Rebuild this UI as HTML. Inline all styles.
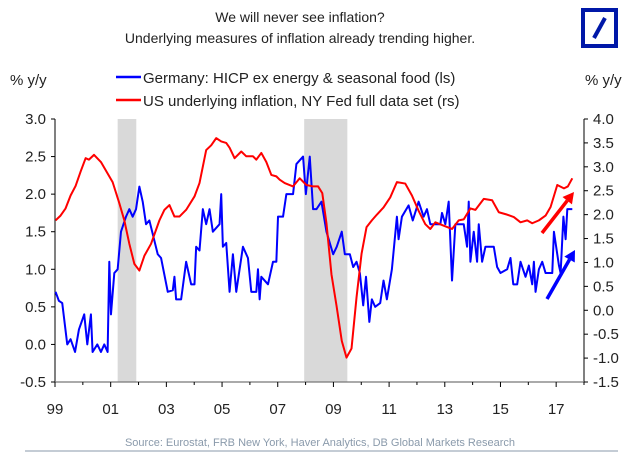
<!DOCTYPE html>
<html><head><meta charset="utf-8"><style>
body{margin:0;background:#fff;}
svg{display:block;font-family:"Liberation Sans",Arial,sans-serif;}
</style></head><body>
<svg id="chart" width="640" height="459" viewBox="0 0 640 459">
<text x="300" y="22" text-anchor="middle" font-size="14" fill="#222">We will never see inflation?</text>
<text x="300" y="43" text-anchor="middle" font-size="14" fill="#222">Underlying measures of inflation already trending higher.</text>
<g>
<rect x="583" y="10" width="33" height="36" fill="none" stroke="#0018a8" stroke-width="4"/>
<line x1="594" y1="38" x2="605" y2="18" stroke="#0018a8" stroke-width="4"/>
</g>
<text x="10" y="85" font-size="15" fill="#222">% y/y</text>
<text x="585" y="85" font-size="15" fill="#222">% y/y</text>
<g>
<line x1="116" y1="77" x2="141" y2="77" stroke="#0000ff" stroke-width="2.5"/>
<text x="143" y="83" font-size="15" fill="#222">Germany: HICP ex energy &amp; seasonal food (ls)</text>
<line x1="116" y1="100" x2="141" y2="100" stroke="#ff0000" stroke-width="2.5"/>
<text x="143" y="106" font-size="15" fill="#222">US underlying inflation, NY Fed full data set (rs)</text>
</g>
<g id="plot"></g>
<text x="320" y="446" text-anchor="middle" font-size="11" fill="#8a9aab">Source: Eurostat, FRB New York, Haver Analytics, DB Global Markets Research</text>
<line x1="25" y1="451" x2="618" y2="451" stroke="#8a9aab" stroke-width="1"/>
</svg>
<script>
const germanyYears=[1999.02,1999.14,1999.26,1999.44,1999.56,1999.72,1999.86,2000.05,2000.16,2000.29,2000.35,2000.52,2000.65,2000.77,2000.89,2000.95,2001.01,2001.13,2001.25,2001.37,2001.55,2001.67,2001.79,2001.91,2002.03,2002.15,2002.27,2002.39,2002.69,2002.81,2003.05,2003.23,2003.29,2003.35,2003.53,2003.71,2003.89,2004.01,2004.07,2004.19,2004.31,2004.43,2004.55,2004.67,2004.91,2004.97,2005.03,2005.15,2005.27,2005.39,2005.51,2005.75,2005.93,2006.05,2006.23,2006.29,2006.35,2006.41,2006.65,2006.83,2006.95,2007.01,2007.19,2007.31,2007.55,2007.67,2007.91,2008.01,2008.15,2008.27,2008.39,2008.57,2008.75,2008.99,2009.12,2009.30,2009.41,2009.59,2009.71,2009.83,2009.95,2010.07,2010.17,2010.29,2010.38,2010.50,2010.68,2010.80,2010.92,2011.10,2011.28,2011.34,2011.46,2011.70,2011.85,2012.06,2012.24,2012.36,2012.48,2012.84,2012.90,2013.02,2013.14,2013.26,2013.38,2013.68,2013.80,2013.86,2013.92,2014.04,2014.16,2014.22,2014.34,2014.46,2014.76,2014.88,2015.00,2015.24,2015.36,2015.46,2015.60,2015.72,2015.90,2016.02,2016.14,2016.20,2016.26,2016.38,2016.50,2016.62,2016.86,2016.92,2017.10,2017.16,2017.26,2017.34,2017.40,2017.58];
const germanyValues=[0.70,0.58,0.55,0.0,0.07,-0.1,0.2,0.4,0.0,0.4,-0.1,0.0,-0.1,0.0,-0.1,1.1,0.4,0.95,1.0,1.5,1.7,1.8,1.7,1.8,2.1,1.9,1.6,1.65,1.2,1.15,0.7,0.72,0.9,0.6,0.6,1.1,0.8,0.8,1.3,1.25,1.8,1.6,1.8,1.5,1.6,2.0,1.3,1.35,0.7,1.2,0.7,1.3,1.15,0.7,0.7,1.0,0.6,0.9,0.8,1.1,1.1,1.7,1.7,2.0,2.0,2.4,2.5,2.0,2.5,1.8,1.8,1.9,1.5,1.2,1.3,1.5,1.2,1.2,1.03,1.1,0.95,0.52,0.9,0.3,0.6,0.5,0.55,0.85,0.6,1.0,1.7,1.4,1.7,1.85,1.65,1.9,1.7,1.8,1.6,1.6,1.75,1.6,1.9,0.85,1.6,1.6,1.3,1.9,1.1,1.5,1.1,1.6,1.1,1.3,1.3,1.03,0.95,1.0,1.15,0.8,0.8,1.1,0.9,1.05,0.8,1.1,0.7,1.0,1.1,0.95,0.95,1.5,1.05,0.95,1.7,1.4,1.8,1.8];
const usYears=[1999.02,1999.2,1999.38,1999.56,1999.74,1999.92,2000.1,2000.22,2000.4,2000.65,2000.89,2001.07,2001.31,2001.49,2001.67,2001.85,2002.03,2002.21,2002.45,2002.75,2002.93,2003.11,2003.29,2003.47,2003.71,2004.01,2004.19,2004.43,2004.61,2004.79,2004.97,2005.15,2005.27,2005.45,2005.69,2005.87,2006.11,2006.23,2006.41,2006.59,2006.77,2006.95,2007.07,2007.25,2007.55,2007.79,2008.03,2008.27,2008.45,2008.60,2008.75,2008.93,2009.11,2009.30,2009.47,2009.65,2009.83,2010.01,2010.19,2010.38,2010.56,2010.80,2011.04,2011.28,2011.58,2011.82,2012.06,2012.30,2012.48,2012.66,2012.96,2013.26,2013.50,2013.68,2013.92,2014.10,2014.40,2014.70,2014.94,2015.24,2015.48,2015.72,2015.96,2016.14,2016.38,2016.62,2016.80,2017.04,2017.28,2017.42,2017.58];
const usValues=[1.88,1.98,2.13,2.4,2.6,2.9,3.18,3.15,3.25,3.1,2.86,2.68,2.24,1.88,1.39,0.97,0.83,1.14,1.39,1.88,2.1,2.2,1.96,1.96,2.1,2.38,2.66,3.35,3.45,3.6,3.53,3.5,3.4,3.18,3.32,3.22,3.22,3.15,3.29,3.1,2.83,2.8,2.73,2.66,2.59,2.76,2.62,2.59,2.59,2.45,1.82,0.75,0.1,-0.64,-0.99,-0.8,0.27,1.18,1.74,1.88,2.0,2.15,2.36,2.68,2.65,2.4,2.08,1.8,1.7,1.84,1.77,1.7,1.88,1.9,2.13,2.1,2.33,2.3,2.05,2.0,1.95,1.84,1.88,1.82,1.88,1.98,2.16,2.62,2.55,2.59,2.76];
const recessionStarts=[2001.25,2007.95];
const recessionEnds=[2001.92,2009.5];
const leftTicks=[3.0,2.5,2.0,1.5,1.0,0.5,0.0,-0.5];
const rightTicks=[4.0,3.5,3.0,2.5,2.0,1.5,1.0,0.5,0.0,-0.5,-1.0,-1.5];
const yearLabels=["99","01","03","05","07","09","11","13","15","17"];

const X0=55,X1=584,Y0=119,Y1=382;
const xs=y=>X0+(y-1999)*(X1-X0)/19;
const yl=v=>Y1-(v+0.5)*(Y1-Y0)/3.5;
const yr=v=>Y1-(v+1.5)*(Y1-Y0)/5.5;
const NS="http://www.w3.org/2000/svg";
const plot=document.getElementById('plot');
function mk(tag,attrs){const e=document.createElementNS(NS,tag);for(const k in attrs)e.setAttribute(k,attrs[k]);plot.appendChild(e);return e;}

recessionStarts.forEach((s,i)=>{
 const r=mk('rect',{x:xs(s),y:Y0,width:xs(recessionEnds[i])-xs(s),height:Y1-Y0,fill:'#d9d9d9'});
 
 
});
// axes
let a=mk('line',{x1:X0,y1:Y0,x2:X0,y2:Y1,stroke:'#000','stroke-width':1});


a=mk('line',{x1:X1,y1:Y0,x2:X1,y2:Y1,stroke:'#000','stroke-width':1});


a=mk('line',{x1:X0,y1:Y1,x2:X1,y2:Y1,stroke:'#777','stroke-width':1.2});


leftTicks.forEach(v=>{
 mk('line',{x1:X0-4,y1:yl(v),x2:X0,y2:yl(v),stroke:'#000'});
 const t=mk('text',{x:X0-9,y:yl(v)+5,'text-anchor':'end','font-size':15,fill:'#222'});
 t.textContent=v.toFixed(1);
 
 
});
rightTicks.forEach(v=>{
 mk('line',{x1:X1,y1:yr(v),x2:X1+4,y2:yr(v),stroke:'#000'});
 const t=mk('text',{x:X1+9,y:yr(v)+5,'font-size':15,fill:'#222'});
 t.textContent=v.toFixed(1);
 
 
});
for(let y=1999;y<=2018;y++){mk('line',{x1:xs(y),y1:Y1,x2:xs(y),y2:Y1+(y%2?5:3),stroke:'#000'});}
yearLabels.forEach((l,i)=>{
 const t=mk('text',{x:xs(1999+2*i),y:Y1+32,'text-anchor':'middle','font-size':15,fill:'#222'});
 t.textContent=l;
 
 
});
let p=mk('polyline',{points:germanyYears.map((y,i)=>xs(y)+','+yl(germanyValues[i])).join(' '),fill:'none',stroke:'#0000ff','stroke-width':2,'stroke-linejoin':'round'});


p=mk('polyline',{points:usYears.map((y,i)=>xs(y)+','+yr(usValues[i])).join(' '),fill:'none',stroke:'#ff0000','stroke-width':2,'stroke-linejoin':'round'});


function arrow(x1,y1,x2,y2,c,name){
 const g=document.createElementNS(NS,'g');plot.appendChild(g);
 
 
 const ang=Math.atan2(y2-y1,x2-x1),L=11,W=6;
 const bx=x2-L*Math.cos(ang),by=y2-L*Math.sin(ang);
 const l=document.createElementNS(NS,'line');
 [['x1',x1],['y1',y1],['x2',bx],['y2',by],['stroke',c],['stroke-width',3.5]].forEach(([k,v])=>l.setAttribute(k,v));g.appendChild(l);
 const h=document.createElementNS(NS,'polygon');
 h.setAttribute('points',`${x2},${y2} ${bx+W*Math.sin(ang)},${by-W*Math.cos(ang)} ${bx-W*Math.sin(ang)},${by+W*Math.cos(ang)}`);
 h.setAttribute('fill',c);g.appendChild(h);
}
arrow(542,233,574,192,'#ff0000','us-trend-arrow');
arrow(547,299,575,250,'#0000ff','germany-trend-arrow');
</script>
</body></html>
